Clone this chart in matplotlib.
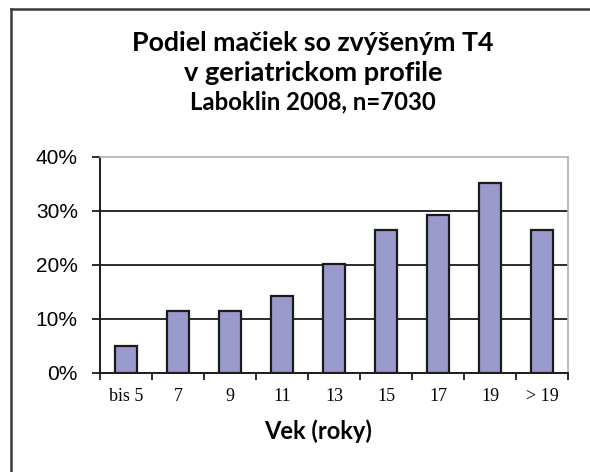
import matplotlib
matplotlib.use("Agg")
import matplotlib.pyplot as plt
from matplotlib.lines import Line2D
from matplotlib.ticker import FixedLocator, FuncFormatter

categories = ["bis 5", "7", "9", "11", "13", "15", "17", "19", "> 19"]
values = [5.0, 11.4, 11.4, 14.3, 20.1, 26.5, 29.3, 35.2, 26.5]
y_ticks = [0, 10, 20, 30, 40]

W, H = 590, 472
fig = plt.figure(figsize=(W / 100, H / 100), dpi=100)
fig.patch.set_facecolor("white")

# outer frame (top and left)
fig.add_artist(Line2D([10.5 / W, 1.0], [1 - 8.5 / H, 1 - 8.5 / H], color="#3a3a3a", lw=1.8,
                      transform=fig.transFigure))
fig.add_artist(Line2D([10.5 / W, 10.5 / W], [1 - 8.5 / H, 0.0], color="#3a3a3a", lw=1.8,
                      transform=fig.transFigure))

title_font = ["Lato", "DejaVu Sans"]
cx = 313 / W
fig.text(cx, 1 - 43 / H, "Podiel mačiek so zvýšeným T4", ha="center", va="center",
         fontsize=19.3, fontweight="bold", family=title_font)
fig.text(cx, 1 - 73 / H, "v geriatrickom profile", ha="center", va="center",
         fontsize=19.5, fontweight="bold", family=title_font)
fig.text(cx, 1 - 102 / H, "Laboklin 2008, n=7030", ha="center", va="center",
         fontsize=17.2, fontweight="bold", family=title_font)

left, right, top, bottom = 100, 568, 157, 373
ax = fig.add_axes([left / W, 1 - bottom / H, (right - left) / W, (bottom - top) / H])
x = list(range(len(categories)))
ax.bar(x, values, width=0.44, color="#9999cc", edgecolor="#1a1a1a", linewidth=1.6, zorder=3)
ax.set_xlim(-0.5, len(categories) - 0.5)
ax.set_ylim(0, 40)

for v in y_ticks[1:-1]:
    ax.axhline(v, color="#1a1a1a", lw=1.3, zorder=1)
ax.spines["top"].set_color("#b0b0b0")
ax.spines["right"].set_color("#b0b0b0")
ax.spines["top"].set_linewidth(1.2)
ax.spines["right"].set_linewidth(1.2)
ax.spines["left"].set_color("#1a1a1a")
ax.spines["bottom"].set_color("#1a1a1a")
ax.spines["left"].set_linewidth(1.4)
ax.spines["bottom"].set_linewidth(1.4)

ax.set_yticks(y_ticks)
ax.yaxis.set_major_formatter(FuncFormatter(lambda v, p: f"{int(v)}%"))
ax.tick_params(axis="y", length=6, width=1.3, color="#1a1a1a", pad=10, labelsize=15)
for t in ax.get_yticklabels():
    t.set_family(["Liberation Sans", "DejaVu Sans"])

ax.set_xticks(x)
ax.set_xticklabels(categories, family=["Liberation Serif", "DejaVu Serif"], fontsize=13)
ax.tick_params(axis="x", which="major", length=0, pad=11)
ax.xaxis.set_minor_locator(FixedLocator([i - 0.5 for i in range(len(categories) + 1)]))
ax.tick_params(axis="x", which="minor", length=5, width=1.3, color="#1a1a1a", direction="out")

fig.text(318 / W, 1 - 431 / H, "Vek (roky)", ha="center", va="center",
         fontsize=17, fontweight="bold", family=title_font)

fig.savefig("out.png", dpi=100, facecolor="white")
